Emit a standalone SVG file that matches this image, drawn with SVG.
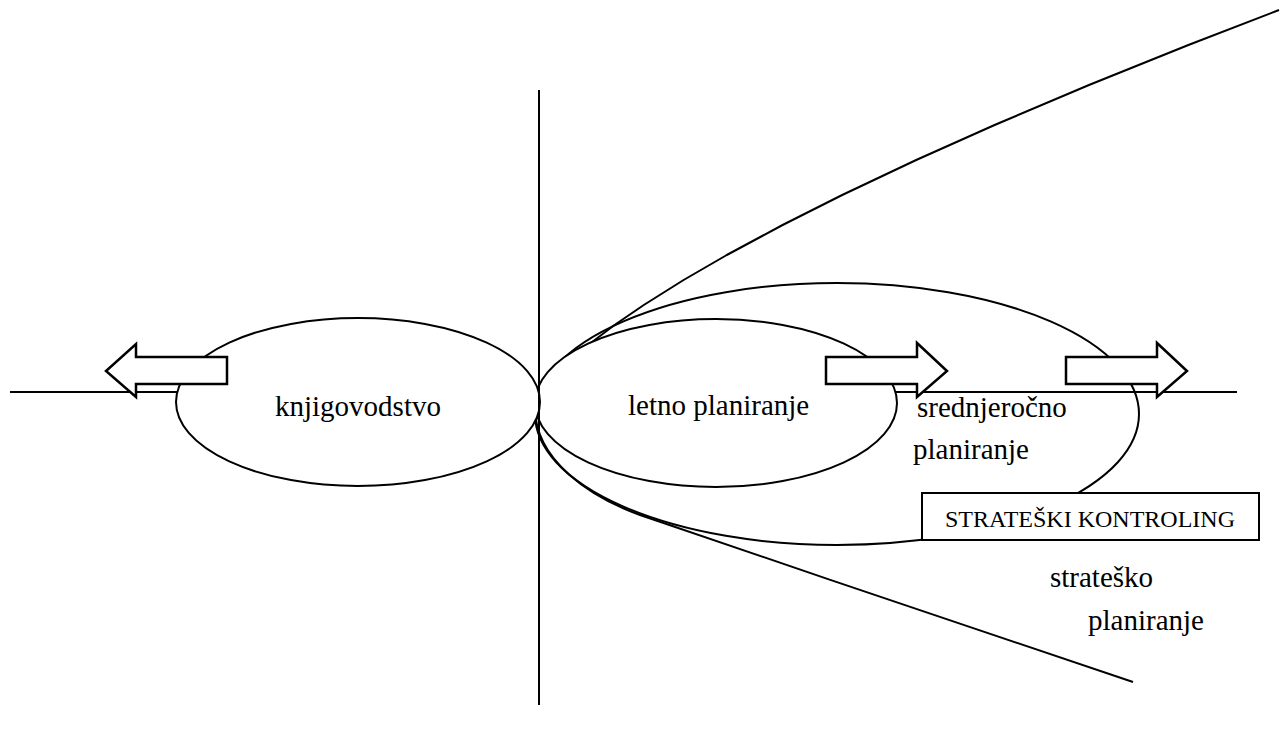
<svg xmlns="http://www.w3.org/2000/svg" width="1283" height="735" viewBox="0 0 1283 735">
<style>
.ln{fill:none;stroke:#000;stroke-width:2;stroke-linejoin:round}
.el{fill:#fff;stroke:#000;stroke-width:2}
.ar{fill:#fff;stroke:#000;stroke-width:2.5;stroke-linejoin:miter}
.t{font-family:"Liberation Serif","Times New Roman",serif;font-size:29px;fill:#000}
.ts{font-family:"Liberation Serif","Times New Roman",serif;font-size:24px;fill:#000}
</style>
<rect width="1283" height="735" fill="#fff"/>
<g id="connectors">
<path id="parabola-upper" class="ln" d="M535,408 L535.4,404 536.6,400 540.6,393 546.4,385 555.1,375 570.6,360 588.2,345 614.5,325 643.8,305 683.6,280 726.8,255 782.6,225 842.2,195 916.2,160 994.6,125 1089,85 1188.4,45 1279,10"/>
<path id="parabola-lower" class="ln" d="M535,408 C535,460 590,497 640,515 C800,570 1000,637 1133,682"/>
<ellipse id="srednjerocno-ellipse" class="ln" cx="837" cy="414" rx="302" ry="131"/>
<line id="h-axis" class="ln" x1="10" y1="392" x2="1237" y2="392"/>
</g>
<g id="letno">
<ellipse class="el" cx="716" cy="403" rx="181" ry="84"/>
<text class="t" x="628" y="415">letno planiranje</text>
</g>
<g id="knjigovodstvo">
<ellipse class="el" cx="358" cy="402" rx="182" ry="84"/>
<text class="t" x="275" y="416">knjigovodstvo</text>
</g>
<line id="v-axis" class="ln" x1="539" y1="90" x2="539" y2="705"/>
<g id="arrow-left">
<polygon class="ar" points="227,357 136,357 136,344 106,371 136,397 136,384 227,384"/>
</g>
<g id="arrow-right-1">
<polygon class="ar" points="826,357 917,357 917,343 947,371 917,397 917,384 826,384"/>
</g>
<g id="arrow-right-2">
<polygon class="ar" points="1066,357 1157,357 1157,343 1187,371 1157,397 1157,384 1066,384"/>
</g>
<g id="srednjerocno">
<text class="t" x="917" y="417">srednjeročno</text>
<text class="t" x="913" y="459">planiranje</text>
</g>
<g id="strateski-kontroling">
<rect class="el" x="922" y="493" width="337" height="47"/>
<text class="ts" x="945" y="527">STRATEŠKI KONTROLING</text>
</g>
<g id="stratesko">
<text class="t" x="1050" y="587">strateško</text>
<text class="t" x="1088" y="630">planiranje</text>
</g>
</svg>
